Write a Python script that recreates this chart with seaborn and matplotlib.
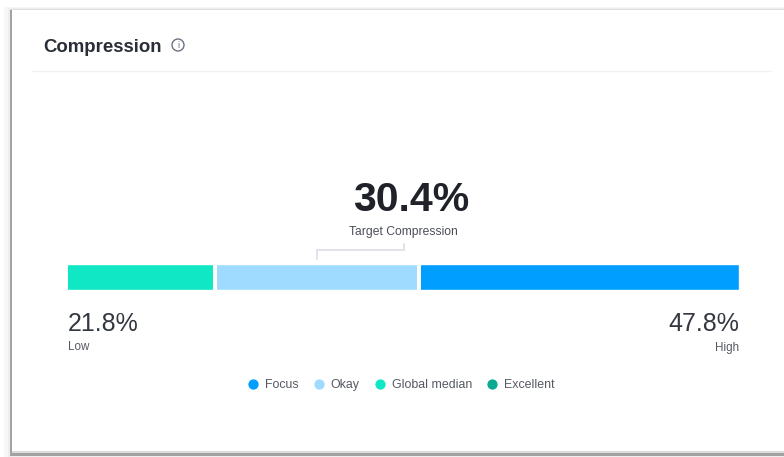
import matplotlib
matplotlib.use("Agg")
import matplotlib.pyplot as plt
from matplotlib.lines import Line2D
from matplotlib.patches import Circle, Rectangle
import pandas as pd
import seaborn as sns

band_names = ["Focus", "Okay", "Global median"]
band_ends = [47.8, 35.4, 27.5]
band_colors = ["#009EFF", "#9FDBFF", "#10E8C5"]
low_value = 21.8
high_value = 47.8
target_value = 30.4
legend_names = ["Focus", "Okay", "Global median", "Excellent"]
legend_colors = ["#009EFF", "#9FDBFF", "#10E8C5", "#0BA98F"]

W, H = 784, 457
sns.set_theme(style="white")
plt.rcParams["font.family"] = ["Liberation Sans", "DejaVu Sans"]

fig = plt.figure(figsize=(W / 100, H / 100), dpi=100, facecolor="white")

# Card furniture, laid out in pixel units with the origin at the top left
page = fig.add_axes([0, 0, 1, 1])
page.set_xlim(0, W)
page.set_ylim(H, 0)
page.axis("off")

for x0, x1, y0, y1, col in [
    (4, W, 7, H, "#f7f7f7"),
    (8, W, 8, H, "#eeeeee"),
    (10, W, 9.5, 456, "#a2a2a2"),
    (12, W, 9.5, 452.5, "#ffffff"),
]:
    page.add_patch(Rectangle((x0, y0), x1 - x0, y1 - y0, fc=col, ec="none"))
page.add_patch(Rectangle((10, 8.5), W - 10, 1.5, fc="#dedede", ec="none"))
page.add_patch(Rectangle((12, 451), W - 12, 2, fc="#dcdcdc", ec="none"))

page.plot([32, 771], [70.5, 70.5], color="#f0f2f6", lw=1)
page.text(43, 47, "Compression", fontsize=13.4, fontweight="bold",
          color="#2a2e37", ha="left", va="center")
page.add_patch(Circle((178, 45), 6, fc="none", ec="#6b7280", lw=1))
page.text(178, 45.5, "i", fontsize=6.5, color="#6b7280", ha="center", va="center")

# Range bar: the axes span exactly low to high, so each band ends at its value
ax = fig.add_axes([68 / W, 1 - 290 / H, 671 / W, 26 / H])
bands = pd.DataFrame({"band": band_names, "end": band_ends, "row": [""] * 3})
sns.barplot(data=bands, x="end", y="row", hue="band", hue_order=band_names,
            palette=band_colors, dodge=False, width=1, saturation=1,
            legend=False, ax=ax)
ax.set_xlim(low_value, high_value)
ax.set_ylim(0.5, -0.5)
ax.axis("off")
for end in band_ends[1:]:
    ax.axvline(end, color="white", lw=2.9)

# Bracket linking the middle band to the headline value
middle = (band_ends[1] + band_ends[2]) / 2
bracket_end = 34.8
ax.plot([middle, middle, bracket_end, bracket_end], [-0.70, -1.05, -1.05, -1.28],
        color="#dfe1e8", lw=1.3, clip_on=False, solid_joinstyle="miter")

page.text(411, 200, f"{target_value}%", fontsize=29.5, fontweight="bold",
          color="#1f2329", ha="center", va="center")
page.text(403.5, 232, "Target Compression", fontsize=8.7, color="#4b4f58",
          ha="center", va="center")
page.text(68, 324, f"{low_value}%", fontsize=18, color="#33373f", ha="left", va="center")
page.text(68, 347.5, "Low", fontsize=8.4, color="#555962", ha="left", va="center")
page.text(739, 324, f"{high_value}%", fontsize=18, color="#33373f", ha="right", va="center")
page.text(739, 347.5, "High", fontsize=8.4, color="#555962", ha="right", va="center")

handles = [Line2D([], [], ls="none", marker="o", ms=7.4, mfc=c, mec="none", label=n)
           for n, c in zip(legend_names, legend_colors)]
fig.legend(handles=handles, ncol=4, frameon=False, fontsize=8.9,
           loc="center", bbox_to_anchor=(400 / W, 1 - 385 / H),
           handletextpad=0.35, columnspacing=1.05, handlelength=1.2,
           labelcolor="#555962")

fig.savefig("out.png", dpi=100)
